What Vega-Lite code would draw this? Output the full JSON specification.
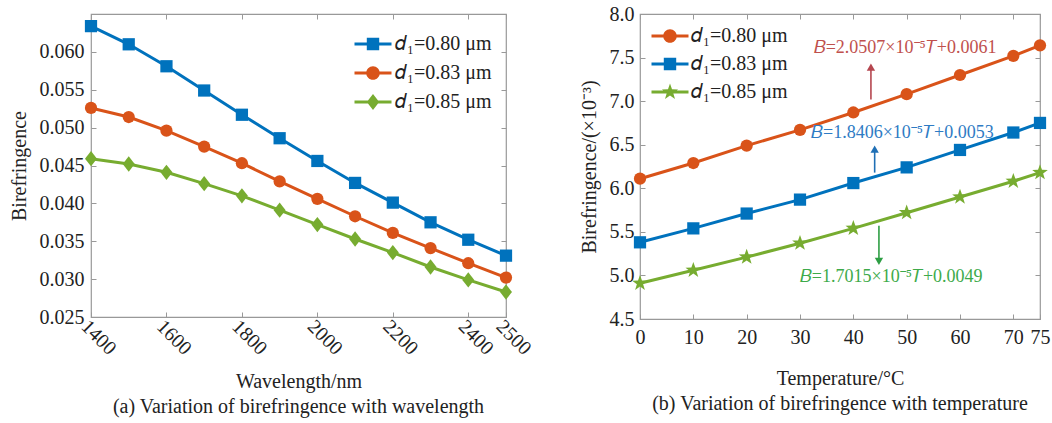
{
  "$schema": "https://vega.github.io/schema/vega-lite/v6.json",
  "padding": {"left": 8, "top": 3, "right": 5, "bottom": 5},
  "background": "white",
  "config": {
    "font": "Liberation Serif",
    "view": {"stroke": "#999999", "strokeWidth": 1.2},
    "axis": {
      "labelFont": "Liberation Serif",
      "labelFontSize": 20,
      "labelColor": "#222222",
      "titleFont": "Liberation Serif",
      "titleFontSize": 20,
      "titleFontWeight": "normal",
      "titleColor": "#222222",
      "domain": false,
      "grid": false,
      "tickColor": "#999999",
      "tickSize": -5,
      "labelPadding": 12,
      "labelOverlap": false,
      "labelFlush": false
    },
    "legend": {
      "labelFont": "Liberation Serif",
      "labelFontSize": 20,
      "labelColor": "#222222",
      "title": null,
      "symbolSize": 400,
      "symbolOpacity": 1,
      "labelOffset": 12,
      "rowPadding": 9
    }
  },
  "datasets": {
    "wl": [
      {"wavelength": 1400, "birefringence": 0.0634, "series": "𝑑₁=0.80 μm"},
      {"wavelength": 1500, "birefringence": 0.0610, "series": "𝑑₁=0.80 μm"},
      {"wavelength": 1600, "birefringence": 0.0581, "series": "𝑑₁=0.80 μm"},
      {"wavelength": 1700, "birefringence": 0.0549, "series": "𝑑₁=0.80 μm"},
      {"wavelength": 1800, "birefringence": 0.0517, "series": "𝑑₁=0.80 μm"},
      {"wavelength": 1900, "birefringence": 0.0486, "series": "𝑑₁=0.80 μm"},
      {"wavelength": 2000, "birefringence": 0.0456, "series": "𝑑₁=0.80 μm"},
      {"wavelength": 2100, "birefringence": 0.0427, "series": "𝑑₁=0.80 μm"},
      {"wavelength": 2200, "birefringence": 0.0401, "series": "𝑑₁=0.80 μm"},
      {"wavelength": 2300, "birefringence": 0.0375, "series": "𝑑₁=0.80 μm"},
      {"wavelength": 2400, "birefringence": 0.0352, "series": "𝑑₁=0.80 μm"},
      {"wavelength": 2500, "birefringence": 0.0331, "series": "𝑑₁=0.80 μm"},
      {"wavelength": 1400, "birefringence": 0.0526, "series": "𝑑₁=0.83 μm"},
      {"wavelength": 1500, "birefringence": 0.0514, "series": "𝑑₁=0.83 μm"},
      {"wavelength": 1600, "birefringence": 0.0496, "series": "𝑑₁=0.83 μm"},
      {"wavelength": 1700, "birefringence": 0.0475, "series": "𝑑₁=0.83 μm"},
      {"wavelength": 1800, "birefringence": 0.0453, "series": "𝑑₁=0.83 μm"},
      {"wavelength": 1900, "birefringence": 0.0429, "series": "𝑑₁=0.83 μm"},
      {"wavelength": 2000, "birefringence": 0.0406, "series": "𝑑₁=0.83 μm"},
      {"wavelength": 2100, "birefringence": 0.0383, "series": "𝑑₁=0.83 μm"},
      {"wavelength": 2200, "birefringence": 0.0361, "series": "𝑑₁=0.83 μm"},
      {"wavelength": 2300, "birefringence": 0.0341, "series": "𝑑₁=0.83 μm"},
      {"wavelength": 2400, "birefringence": 0.0321, "series": "𝑑₁=0.83 μm"},
      {"wavelength": 2500, "birefringence": 0.0302, "series": "𝑑₁=0.83 μm"},
      {"wavelength": 1400, "birefringence": 0.0459, "series": "𝑑₁=0.85 μm"},
      {"wavelength": 1500, "birefringence": 0.0452, "series": "𝑑₁=0.85 μm"},
      {"wavelength": 1600, "birefringence": 0.0441, "series": "𝑑₁=0.85 μm"},
      {"wavelength": 1700, "birefringence": 0.0426, "series": "𝑑₁=0.85 μm"},
      {"wavelength": 1800, "birefringence": 0.0410, "series": "𝑑₁=0.85 μm"},
      {"wavelength": 1900, "birefringence": 0.0391, "series": "𝑑₁=0.85 μm"},
      {"wavelength": 2000, "birefringence": 0.0372, "series": "𝑑₁=0.85 μm"},
      {"wavelength": 2100, "birefringence": 0.0353, "series": "𝑑₁=0.85 μm"},
      {"wavelength": 2200, "birefringence": 0.0335, "series": "𝑑₁=0.85 μm"},
      {"wavelength": 2300, "birefringence": 0.0316, "series": "𝑑₁=0.85 μm"},
      {"wavelength": 2400, "birefringence": 0.0299, "series": "𝑑₁=0.85 μm"},
      {"wavelength": 2500, "birefringence": 0.0283, "series": "𝑑₁=0.85 μm"}
    ],
    "temp": [
      {"temperature": 0, "birefringence": 6.11, "series": "𝑑₁=0.80 μm"},
      {"temperature": 10, "birefringence": 6.29, "series": "𝑑₁=0.80 μm"},
      {"temperature": 20, "birefringence": 6.49, "series": "𝑑₁=0.80 μm"},
      {"temperature": 30, "birefringence": 6.67, "series": "𝑑₁=0.80 μm"},
      {"temperature": 40, "birefringence": 6.87, "series": "𝑑₁=0.80 μm"},
      {"temperature": 50, "birefringence": 7.08, "series": "𝑑₁=0.80 μm"},
      {"temperature": 60, "birefringence": 7.30, "series": "𝑑₁=0.80 μm"},
      {"temperature": 70, "birefringence": 7.52, "series": "𝑑₁=0.80 μm"},
      {"temperature": 75, "birefringence": 7.64, "series": "𝑑₁=0.80 μm"},
      {"temperature": 0, "birefringence": 5.38, "series": "𝑑₁=0.83 μm"},
      {"temperature": 10, "birefringence": 5.54, "series": "𝑑₁=0.83 μm"},
      {"temperature": 20, "birefringence": 5.71, "series": "𝑑₁=0.83 μm"},
      {"temperature": 30, "birefringence": 5.87, "series": "𝑑₁=0.83 μm"},
      {"temperature": 40, "birefringence": 6.06, "series": "𝑑₁=0.83 μm"},
      {"temperature": 50, "birefringence": 6.24, "series": "𝑑₁=0.83 μm"},
      {"temperature": 60, "birefringence": 6.44, "series": "𝑑₁=0.83 μm"},
      {"temperature": 70, "birefringence": 6.64, "series": "𝑑₁=0.83 μm"},
      {"temperature": 75, "birefringence": 6.75, "series": "𝑑₁=0.83 μm"},
      {"temperature": 0, "birefringence": 4.91, "series": "𝑑₁=0.85 μm"},
      {"temperature": 10, "birefringence": 5.06, "series": "𝑑₁=0.85 μm"},
      {"temperature": 20, "birefringence": 5.21, "series": "𝑑₁=0.85 μm"},
      {"temperature": 30, "birefringence": 5.37, "series": "𝑑₁=0.85 μm"},
      {"temperature": 40, "birefringence": 5.54, "series": "𝑑₁=0.85 μm"},
      {"temperature": 50, "birefringence": 5.72, "series": "𝑑₁=0.85 μm"},
      {"temperature": 60, "birefringence": 5.90, "series": "𝑑₁=0.85 μm"},
      {"temperature": 70, "birefringence": 6.08, "series": "𝑑₁=0.85 μm"},
      {"temperature": 75, "birefringence": 6.18, "series": "𝑑₁=0.85 μm"}
    ]
  },
  "resolve": {"scale": {"color": "independent"}, "legend": {"color": "independent"}},
  "spacing": 43,
  "hconcat": [
    {
      "width": 415,
      "height": 303,
      "title": {"text": "(a) Variation of birefringence with wavelength", "orient": "bottom", "anchor": "middle", "frame": "group", "fontSize": 20, "fontWeight": "normal", "color": "#222222", "offset": 6},
      "data": {"name": "wl"},
      "resolve": {"axis": {"x": "independent", "y": "independent"}},
      "layer": [
        {
          "mark": {"type": "line", "strokeWidth": 3},
          "encoding": {
            "x": {"field": "wavelength", "type": "quantitative", "scale": {"domain": [1400, 2500], "nice": false, "zero": false},
              "axis": {"title": "Wavelength/nm", "values": [1400, 1600, 1800, 2000, 2200, 2400, 2500], "format": "d", "labelAngle": 45, "labelPadding": 4, "titlePadding": 13}},
            "y": {"field": "birefringence", "type": "quantitative", "scale": {"domain": [0.025, 0.065], "nice": false, "zero": false},
              "axis": {"title": "Birefringence", "values": [0.025, 0.03, 0.035, 0.04, 0.045, 0.05, 0.055, 0.06], "format": ".3f", "titlePadding": 10}},
            "color": {"field": "series", "type": "nominal", "scale": {"domain": ["𝑑₁=0.80 μm", "𝑑₁=0.83 μm", "𝑑₁=0.85 μm"], "range": ["#0072BD", "#D95319", "#77AC30"]},
              "legend": {"orient": "none", "legendX": 272, "legendY": 20, "padding": 0,
                "encode": {"symbols": {"update": {
                  "fill": {"signal": "datum.value === '𝑑₁=0.80 μm' ? '#0072BD' : datum.value === '𝑑₁=0.83 μm' ? '#D95319' : '#77AC30'"},
                  "stroke": {"value": "transparent"},
                  "strokeWidth": {"value": 0},
                  "opacity": {"value": 1},
                  "shape": {"signal": "datum.value === '𝑑₁=0.80 μm' ? 'M-1.85,-0.15H1.85V0.15H-1.85Z M-0.62,-0.62H0.62V0.62H-0.62Z' : datum.value === '𝑑₁=0.83 μm' ? 'M-1.85,-0.15H1.85V0.15H-1.85Z M0.68,0A0.68,0.68 0 1 1 -0.68,0A0.68,0.68 0 1 1 0.68,0Z' : 'M-1.85,-0.15H1.85V0.15H-1.85Z M0,-0.8L0.62,0L0,0.8L-0.62,0Z'"}}}}}}
          }
        },
        {
          "mark": {"type": "point", "filled": true, "opacity": 1, "size": 150},
          "encoding": {
            "x": {"field": "wavelength", "type": "quantitative", "axis": {"orient": "top", "labels": false, "title": null, "values": [1400, 1600, 1800, 2000, 2200, 2400, 2500]}},
            "y": {"field": "birefringence", "type": "quantitative", "axis": {"orient": "right", "labels": false, "title": null, "values": [0.025, 0.03, 0.035, 0.04, 0.045, 0.05, 0.055, 0.06]}},
            "color": {"field": "series", "type": "nominal", "scale": {"domain": ["𝑑₁=0.80 μm", "𝑑₁=0.83 μm", "𝑑₁=0.85 μm"], "range": ["#0072BD", "#D95319", "#77AC30"]},
              "legend": {"orient": "none", "legendX": 272, "legendY": 20, "padding": 0,
                "encode": {"symbols": {"update": {
                  "fill": {"signal": "datum.value === '𝑑₁=0.80 μm' ? '#0072BD' : datum.value === '𝑑₁=0.83 μm' ? '#D95319' : '#77AC30'"},
                  "stroke": {"value": "transparent"},
                  "strokeWidth": {"value": 0},
                  "opacity": {"value": 1},
                  "shape": {"signal": "datum.value === '𝑑₁=0.80 μm' ? 'M-1.85,-0.15H1.85V0.15H-1.85Z M-0.62,-0.62H0.62V0.62H-0.62Z' : datum.value === '𝑑₁=0.83 μm' ? 'M-1.85,-0.15H1.85V0.15H-1.85Z M0.68,0A0.68,0.68 0 1 1 -0.68,0A0.68,0.68 0 1 1 0.68,0Z' : 'M-1.85,-0.15H1.85V0.15H-1.85Z M0,-0.8L0.62,0L0,0.8L-0.62,0Z'"}}}}}},
            "shape": {"condition": [{"test": {"field": "series", "equal": "𝑑₁=0.80 μm"}, "value": "M-1,-1H1V1H-1Z"}, {"test": {"field": "series", "equal": "𝑑₁=0.83 μm"}, "value": "circle"}], "value": "M0,-1.25L0.98,0L0,1.25L-0.98,0Z"}
          }
        }
      ]
    },
    {
      "width": 400,
      "height": 305,
      "title": {"text": "(b) Variation of birefringence with temperature", "orient": "bottom", "anchor": "middle", "frame": "group", "fontSize": 20, "fontWeight": "normal", "color": "#222222", "offset": 6},
      "resolve": {"axis": {"x": "independent", "y": "independent"}},
      "layer": [
        {
          "data": {"name": "temp"},
          "mark": {"type": "line", "strokeWidth": 3},
          "encoding": {
            "x": {"field": "temperature", "type": "quantitative", "scale": {"domain": [0, 75], "nice": false},
              "axis": {"title": "Temperature/°C", "values": [0, 10, 20, 30, 40, 50, 60, 70, 75], "format": "d", "labelPadding": 13, "titlePadding": 21}},
            "y": {"field": "birefringence", "type": "quantitative", "scale": {"domain": [4.5, 8.0], "nice": false, "zero": false},
              "axis": {"title": "Birefringence/(×10⁻³)", "values": [4.5, 5.0, 5.5, 6.0, 6.5, 7.0, 7.5, 8.0], "format": ".1f", "labelPadding": 11, "titlePadding": 10}},
            "color": {"field": "series", "type": "nominal", "scale": {"domain": ["𝑑₁=0.80 μm", "𝑑₁=0.83 μm", "𝑑₁=0.85 μm"], "range": ["#D95319", "#0072BD", "#77AC30"]},
              "legend": {"orient": "none", "legendX": 20, "legendY": 12, "padding": 0, "rowPadding": 8, "labelOffset": 11,
                "encode": {"symbols": {"update": {
                  "fill": {"signal": "datum.value === '𝑑₁=0.80 μm' ? '#D95319' : datum.value === '𝑑₁=0.83 μm' ? '#0072BD' : '#77AC30'"},
                  "stroke": {"value": "transparent"},
                  "strokeWidth": {"value": 0},
                  "opacity": {"value": 1},
                  "shape": {"signal": "datum.value === '𝑑₁=0.80 μm' ? 'M-1.85,-0.15H1.85V0.15H-1.85Z M0.68,0A0.68,0.68 0 1 1 -0.68,0A0.68,0.68 0 1 1 0.68,0Z' : datum.value === '𝑑₁=0.83 μm' ? 'M-1.85,-0.15H1.85V0.15H-1.85Z M-0.62,-0.62H0.62V0.62H-0.62Z' : 'M-1.85,-0.15H1.85V0.15H-1.85Z M0,-0.85L0.2,-0.28L0.81,-0.26L0.32,0.1L0.5,0.69L0,0.34L-0.5,0.69L-0.32,0.1L-0.81,-0.26L-0.2,-0.28Z'"}}}}}}
          }
        },
        {
          "data": {"name": "temp"},
          "mark": {"type": "point", "filled": true, "opacity": 1, "size": 150},
          "encoding": {
            "x": {"field": "temperature", "type": "quantitative", "axis": {"orient": "top", "labels": false, "title": null, "values": [0, 10, 20, 30, 40, 50, 60, 70, 75]}},
            "y": {"field": "birefringence", "type": "quantitative", "axis": {"orient": "right", "labels": false, "title": null, "values": [4.5, 5.0, 5.5, 6.0, 6.5, 7.0, 7.5, 8.0]}},
            "color": {"field": "series", "type": "nominal", "scale": {"domain": ["𝑑₁=0.80 μm", "𝑑₁=0.83 μm", "𝑑₁=0.85 μm"], "range": ["#D95319", "#0072BD", "#77AC30"]},
              "legend": {"orient": "none", "legendX": 20, "legendY": 12, "padding": 0, "rowPadding": 8, "labelOffset": 11,
                "encode": {"symbols": {"update": {
                  "fill": {"signal": "datum.value === '𝑑₁=0.80 μm' ? '#D95319' : datum.value === '𝑑₁=0.83 μm' ? '#0072BD' : '#77AC30'"},
                  "stroke": {"value": "transparent"},
                  "strokeWidth": {"value": 0},
                  "opacity": {"value": 1},
                  "shape": {"signal": "datum.value === '𝑑₁=0.80 μm' ? 'M-1.85,-0.15H1.85V0.15H-1.85Z M0.68,0A0.68,0.68 0 1 1 -0.68,0A0.68,0.68 0 1 1 0.68,0Z' : datum.value === '𝑑₁=0.83 μm' ? 'M-1.85,-0.15H1.85V0.15H-1.85Z M-0.62,-0.62H0.62V0.62H-0.62Z' : 'M-1.85,-0.15H1.85V0.15H-1.85Z M0,-0.85L0.2,-0.28L0.81,-0.26L0.32,0.1L0.5,0.69L0,0.34L-0.5,0.69L-0.32,0.1L-0.81,-0.26L-0.2,-0.28Z'"}}}}}},
            "shape": {"condition": [{"test": {"field": "series", "equal": "𝑑₁=0.80 μm"}, "value": "circle"}, {"test": {"field": "series", "equal": "𝑑₁=0.83 μm"}, "value": "M-1,-1H1V1H-1Z"}], "value": "M0,-1.35L0.32,-0.45L1.28,-0.42L0.51,0.16L0.8,1.09L0,0.54L-0.8,1.09L-0.51,0.16L-1.28,-0.42L-0.32,-0.45Z"}
          }
        },
        {
          "data": {"values": [{"temperature": 43.3, "birefringence": 7.02, "b2": 7.40}]},
          "mark": {"type": "rule", "color": "#B5464F", "strokeWidth": 1.6},
          "encoding": {"x": {"field": "temperature", "type": "quantitative", "axis": null}, "y": {"field": "birefringence", "type": "quantitative", "axis": null}, "y2": {"field": "b2"}}
        },
        {
          "data": {"values": [{"temperature": 43.3, "birefringence": 7.39}]},
          "mark": {"type": "point", "shape": "triangle-up", "filled": true, "opacity": 1, "size": 70, "color": "#B5464F"},
          "encoding": {"x": {"field": "temperature", "type": "quantitative", "axis": null}, "y": {"field": "birefringence", "type": "quantitative", "axis": null}}
        },
        {
          "data": {"values": [{"temperature": 44.0, "birefringence": 6.18, "b2": 6.46}]},
          "mark": {"type": "rule", "color": "#1F6FB5", "strokeWidth": 1.6},
          "encoding": {"x": {"field": "temperature", "type": "quantitative", "axis": null}, "y": {"field": "birefringence", "type": "quantitative", "axis": null}, "y2": {"field": "b2"}}
        },
        {
          "data": {"values": [{"temperature": 44.0, "birefringence": 6.45}]},
          "mark": {"type": "point", "shape": "triangle-up", "filled": true, "opacity": 1, "size": 70, "color": "#1F6FB5"},
          "encoding": {"x": {"field": "temperature", "type": "quantitative", "axis": null}, "y": {"field": "birefringence", "type": "quantitative", "axis": null}}
        },
        {
          "data": {"values": [{"temperature": 44.8, "birefringence": 5.57, "b2": 5.15}]},
          "mark": {"type": "rule", "color": "#2E9E44", "strokeWidth": 1.6},
          "encoding": {"x": {"field": "temperature", "type": "quantitative", "axis": null}, "y": {"field": "birefringence", "type": "quantitative", "axis": null}, "y2": {"field": "b2"}}
        },
        {
          "data": {"values": [{"temperature": 44.8, "birefringence": 5.16}]},
          "mark": {"type": "point", "shape": "triangle-down", "filled": true, "opacity": 1, "size": 70, "color": "#2E9E44"},
          "encoding": {"x": {"field": "temperature", "type": "quantitative", "axis": null}, "y": {"field": "birefringence", "type": "quantitative", "axis": null}}
        },
        {
          "data": {"values": [{"temperature": 49.7, "birefringence": 7.61, "label": "𝐵=2.0507×10⁻⁵𝑇+0.0061"}]},
          "mark": {"type": "text", "color": "#C0504D", "fontSize": 18, "font": "Liberation Serif", "align": "center", "baseline": "middle"},
          "encoding": {"x": {"field": "temperature", "type": "quantitative", "axis": null}, "y": {"field": "birefringence", "type": "quantitative", "axis": null}, "text": {"field": "label"}}
        },
        {
          "data": {"values": [{"temperature": 49.2, "birefringence": 6.64, "label": "𝐵=1.8406×10⁻⁵𝑇+0.0053"}]},
          "mark": {"type": "text", "color": "#2E7BC4", "fontSize": 18, "font": "Liberation Serif", "align": "center", "baseline": "middle"},
          "encoding": {"x": {"field": "temperature", "type": "quantitative", "axis": null}, "y": {"field": "birefringence", "type": "quantitative", "axis": null}, "text": {"field": "label"}}
        },
        {
          "data": {"values": [{"temperature": 47.1, "birefringence": 4.98, "label": "𝐵=1.7015×10⁻⁵𝑇+0.0049"}]},
          "mark": {"type": "text", "color": "#3DAA4A", "fontSize": 18, "font": "Liberation Serif", "align": "center", "baseline": "middle"},
          "encoding": {"x": {"field": "temperature", "type": "quantitative", "axis": null}, "y": {"field": "birefringence", "type": "quantitative", "axis": null}, "text": {"field": "label"}}
        }
      ]
    }
  ]
}
